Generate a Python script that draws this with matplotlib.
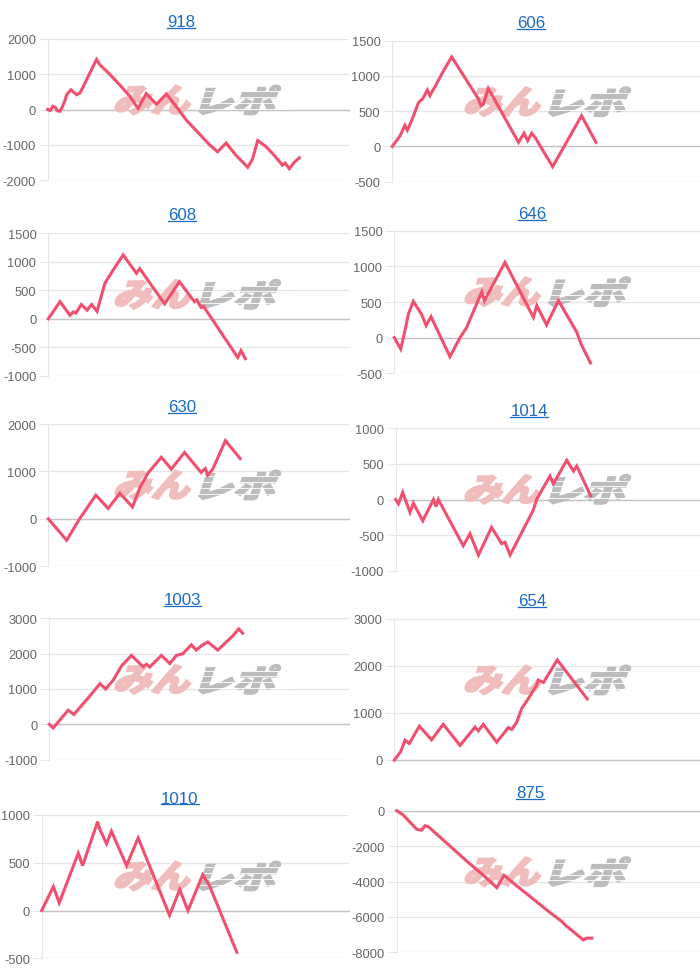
import matplotlib
matplotlib.use('Agg')
import matplotlib.pyplot as plt
from matplotlib.textpath import TextPath
from matplotlib.patches import PathPatch
from matplotlib.font_manager import FontProperties
from matplotlib.transforms import Affine2D
from matplotlib.lines import Line2D

plt.rcParams['font.family'] = ['Liberation Sans', 'DejaVu Sans']
plt.rcParams['axes.unicode_minus'] = False

W, H = 700, 970

titles = ['918', '606', '608', '646', '630', '1014', '1003', '654', '1010', '875']

# x = position along the chart (% of width), y = difference in coins
x_918 = [0, 0.8, 1.7, 2.5, 3.3, 4.1, 5.0, 5.7, 6.3, 7.7, 9.6, 10.7, 11.8, 13.5, 16.2, 17.3,
         20.6, 23.9, 27.2, 30.0, 32.7, 36.1, 39.4, 42.7, 46.0, 50.4, 53.7, 56.4, 59.2, 62.5,
         66.4, 68.0, 69.7, 72.4, 75.2, 77.9, 78.8, 80.2, 81.8, 83.5]
y_918 = [0, -30, 90, 60, -40, -50, 100, 250, 420, 560, 420, 470, 650, 950, 1420, 1270,
         1000, 700, 380, 30, 450, 150, 440, 80, -300, -700, -1000, -1200, -950, -1300,
         -1640, -1400, -880, -1050, -1300, -1580, -1520, -1680, -1500, -1370]

x_606 = [0, 2.5, 4.1, 4.9, 6.3, 8.5, 9.9, 11.4, 12.2, 13.9, 16.6, 19.3, 28.0, 28.8, 29.6,
         31.2, 41.0, 42.8, 44.0, 45.3, 46.4, 52.1, 61.5, 66.2]
y_606 = [0, 150, 300, 230, 370, 620, 680, 800, 720, 850, 1070, 1270, 673, 578, 600,
         824, 58, 186, 82, 186, 129, -287, 436, 58]

x_608 = [0, 3.9, 7.2, 8.3, 9.2, 11.0, 12.9, 14.4, 16.2, 18.8, 21.5, 24.9, 29.3, 30.4,
         38.7, 43.6, 48.6, 49.4, 50.8, 51.6, 63.0, 64.1, 65.5]
y_608 = [0, 300, 60, 120, 100, 250, 150, 250, 130, 620, 850, 1120, 800, 880,
         260, 650, 300, 330, 200, 220, -680, -560, -700]

x_646 = [0, 2.1, 3.5, 4.6, 6.2, 8.9, 10.4, 12.0, 18.2, 21.5, 23.7, 24.8, 28.6, 29.5,
         36.2, 45.5, 46.6, 49.8, 53.7, 59.7, 61.3, 64.2]
y_646 = [0, -160, 100, 330, 510, 330, 170, 295, -266, 0, 145, 260, 640, 520,
         1056, 285, 450, 180, 520, 75, -110, -355]

x_630 = [0, 6.1, 10.5, 15.8, 19.9, 23.8, 28.0, 30.4, 33.1, 37.6, 40.9, 45.3, 50.8,
         52.2, 53.0, 54.7, 58.9, 63.8]
y_630 = [0, -450, 10, 500, 220, 540, 250, 650, 960, 1300, 1050, 1400, 980,
         1060, 920, 1050, 1650, 1270]

x_1014 = [0, 0.9, 2.3, 4.7, 5.8, 8.9, 12.4, 13.3, 14.0, 22.2, 24.4, 27.2, 31.5, 34.8,
          35.9, 37.6, 45.2, 46.3, 50.7, 51.8, 56.2, 58.4, 59.5, 64.1]
y_1014 = [0, -60, 100, -180, -50, -300, 0, -100, 0, -650, -480, -780, -390, -620,
          -600, -780, -150, 0, 330, 220, 550, 400, 470, 50]

x_1003 = [0, 1.3, 6.3, 8.2, 13.5, 16.9, 18.8, 21.3, 24.1, 27.4, 31.3, 32.4, 33.5, 37.4,
          40.2, 42.4, 44.6, 47.4, 49.0, 51.2, 52.9, 56.2, 61.2, 63.2, 64.5]
y_1003 = [0, -100, 400, 280, 800, 1150, 1000, 1250, 1650, 1950, 1630, 1700, 1620, 1950,
          1720, 1950, 2000, 2250, 2100, 2250, 2330, 2100, 2500, 2700, 2580]

x_654 = [0, 2.1, 3.5, 4.9, 8.2, 12.2, 16.0, 21.5, 26.4, 27.5, 29.1, 33.5, 37.3, 38.4,
         40.0, 41.7, 43.8, 46.6, 47.1, 48.8, 53.3, 63.1]
y_654 = [0, 180, 420, 350, 720, 430, 760, 310, 700, 620, 760, 380, 690, 650,
         800, 1100, 1300, 1600, 1700, 1650, 2130, 1300]

x_1010 = [0, 3.8, 5.7, 11.9, 13.3, 18.2, 18.9, 21.1, 22.7, 27.6, 31.4, 41.6, 44.9, 47.6,
          52.4, 54.6, 63.5]
y_1010 = [0, 250, 80, 600, 470, 930, 850, 700, 830, 470, 760, -50, 220, 0,
          375, 260, -437]

x_875 = [0, 2.2, 6.6, 8.2, 9.3, 10.4, 17.6, 23.1, 28.6, 33.0, 35.4, 39.6, 45.1, 50.5,
         54.4, 55.5, 61.5, 62.6, 64.3]
y_875 = [0, -250, -1050, -1100, -850, -900, -2000, -2850, -3650, -4350, -3650, -4250,
         -5000, -5750, -6250, -6450, -7300, -7200, -7200]

xs = [x_918, x_606, x_608, x_646, x_630, x_1014, x_1003, x_654, x_1010, x_875]
ys = [y_918, y_606, y_608, y_646, y_630, y_1014, y_1003, y_654, y_1010, y_875]

y_ranges = [(-2000, 2000, 1000), (-500, 1500, 500), (-1000, 1500, 500), (-500, 1500, 500),
            (-1000, 2000, 1000), (-1000, 1000, 500), (-1000, 3000, 1000), (0, 3000, 1000),
            (-500, 1000, 500), (-8000, 0, 2000)]

# layout in pixels: plot box (left, top, right, bottom) and title centre
boxes = [(47.7, 40, 349, 181), (392.3, 41.7, 700, 182.7),
         (48.3, 234.3, 349, 376.7), (394.3, 231.7, 700, 374.3),
         (48.3, 425, 349, 567.3), (395.7, 429.3, 700, 571.7),
         (49.3, 619.3, 349, 760.7), (394.3, 620, 700, 761),
         (41.7, 816, 349, 959.3), (396.7, 811.7, 700, 953.3)]
title_pos = [(181, 21), (531, 22), (182, 214.7), (531.7, 213), (182, 406.3),
             (529, 410.3), (182.7, 599.5), (532, 600), (180, 797.8), (530, 792.5)]

line_color = '#f0506e'
grid_color = '#e6e6e6'
link_color = '#1a6bc7'

fig = plt.figure(figsize=(W / 100, H / 100), dpi=100)
px = Affine2D().scale(1 / 100) + fig.dpi_scale_trans   # pixel -> display

wm_font = FontProperties(family='Noto Sans CJK JP', weight='heavy')


def watermark(ax, cx, cy):
    # "みん" pink + "レポ" grey, slanted logo
    parts = [('みん', '#f0bcbc', cx - 86), ('レポ', '#bcbcbc', cx - 1)]
    h = 29
    for s, col, x0 in parts:
        tp = TextPath((0, 0), s, size=1, prop=wm_font)
        ext = tp.get_extents()
        tr = (Affine2D().translate(-ext.x0, -ext.y0)
              .scale(74 / ext.width, h / ext.height)
              .skew_deg(18, 0)
              .translate(x0 + 1, H - cy - h / 2))
        patch = PathPatch(tp, facecolor=col, edgecolor=col, lw=1.4,
                          transform=tr + px, zorder=1.5)
        ax.add_patch(patch)
        if col == '#bcbcbc':
            for k in range(1, 5):
                yy = H - cy - h / 2 + k * h / 5
                ax.add_line(Line2D([x0, x0 + 92], [yy, yy], color='white', lw=0.6,
                                   transform=px, zorder=1.6))


for i in range(10):
    l, t, r, b = boxes[i]
    ax = fig.add_axes([l / W, 1 - b / H, (r - l) / W, (b - t) / H])
    lo, hi, step = y_ranges[i]
    ax.set_xlim(0, 100)
    ax.set_ylim(lo, hi)
    ax.set_yticks(range(lo, hi + 1, step))
    ax.set_xticks([])
    for s in ['top', 'right', 'bottom']:
        ax.spines[s].set_visible(False)
    ax.spines['left'].set_color(grid_color)
    ax.yaxis.grid(True, color=grid_color, lw=1)
    ax.set_axisbelow(True)
    ax.axhline(0, color='#c4c4c4', lw=1, clip_on=False, zorder=1.2)
    ax.tick_params(axis='y', length=6.5, width=0.8, color=grid_color,
                   labelcolor='#666666', labelsize=9.3, pad=2)

    cx = 198 if l < 350 else 548
    watermark(ax, cx, t + 61)

    ax.plot(xs[i], ys[i], color=line_color, lw=2.2, solid_joinstyle='miter',
            clip_on=False, zorder=3)

    tx, ty = title_pos[i]
    fig.text(tx / W, 1 - (ty + 5.8) / H, titles[i], ha='center', va='baseline',
             fontsize=12.2, color=link_color)

# underline the titles like links
fig.canvas.draw()
rend = fig.canvas.get_renderer()
for txt in list(fig.texts):
    bb = txt.get_window_extent(rend)
    ytop = H - txt.get_position()[1] * H
    yl = 1 - (ytop + 1.8) / H
    fig.add_artist(Line2D([bb.x0 / W, bb.x1 / W], [yl, yl], color=link_color, lw=0.9,
                          transform=fig.transFigure))

fig.savefig('out.png', dpi=100)
